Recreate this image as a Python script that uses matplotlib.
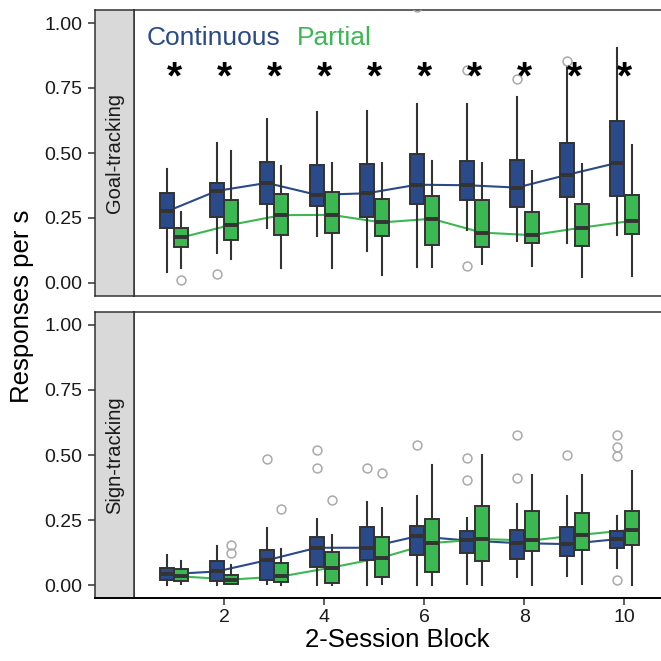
import numpy as np
import matplotlib.pyplot as plt

plt.rcParams['font.family'] = ['Liberation Sans', 'DejaVu Sans']

# 2-session blocks
blocks = np.arange(1, 11)
xticks = [2, 4, 6, 8, 10]
yticks = [0.0, 0.25, 0.5, 0.75, 1.0]
ytick_labels = ['0.00', '0.25', '0.50', '0.75', '1.00']
groups = ['Continuous', 'Partial']
panels = ['Goal-tracking', 'Sign-tracking']
sig_blocks = [1, 2, 3, 4, 5, 6, 7, 8, 9, 10]

# Goal-tracking, Continuous
gt_cont_whislo = [0.041, 0.117, 0.213, 0.181, 0.123, 0.060, 0.205, 0.161, 0.153, 0.183]
gt_cont_q1 = [0.210, 0.254, 0.304, 0.297, 0.254, 0.305, 0.320, 0.294, 0.330, 0.334]
gt_cont_med = [0.275, 0.354, 0.385, 0.339, 0.345, 0.378, 0.376, 0.367, 0.416, 0.462]
gt_cont_q3 = [0.345, 0.385, 0.464, 0.455, 0.459, 0.495, 0.470, 0.472, 0.538, 0.624]
gt_cont_whishi = [0.437, 0.537, 0.630, 0.657, 0.661, 0.688, 0.688, 0.716, 0.831, 0.904]
gt_cont_fliers = [[], [0.036], [], [], [], [1.06], [0.819, 0.067], [0.784], [0.853], []]

# Goal-tracking, Partial
gt_part_whislo = [0.058, 0.092, 0.059, 0.059, 0.031, 0.061, 0.073, 0.064, 0.023, 0.028]
gt_part_q1 = [0.138, 0.165, 0.183, 0.194, 0.181, 0.146, 0.140, 0.153, 0.143, 0.190]
gt_part_med = [0.175, 0.224, 0.261, 0.262, 0.233, 0.247, 0.194, 0.184, 0.213, 0.239]
gt_part_q3 = [0.213, 0.320, 0.343, 0.349, 0.323, 0.335, 0.320, 0.272, 0.305, 0.337]
gt_part_whishi = [0.274, 0.508, 0.451, 0.460, 0.460, 0.470, 0.463, 0.431, 0.456, 0.530]
gt_part_fliers = [[0.013], [], [], [], [], [], [], [], [], []]

# Sign-tracking, Continuous
st_cont_whislo = [0.0, 0.0, 0.004, 0.0, 0.0, 0.0, 0.006, 0.032, 0.037, 0.066]
st_cont_q1 = [0.022, 0.015, 0.019, 0.070, 0.097, 0.117, 0.125, 0.102, 0.111, 0.143]
st_cont_med = [0.042, 0.053, 0.096, 0.144, 0.144, 0.188, 0.172, 0.162, 0.158, 0.177]
st_cont_q3 = [0.066, 0.092, 0.134, 0.187, 0.223, 0.228, 0.210, 0.214, 0.224, 0.210]
st_cont_whishi = [0.117, 0.149, 0.218, 0.255, 0.320, 0.341, 0.259, 0.313, 0.341, 0.267]
st_cont_fliers = [[], [], [0.483], [0.518, 0.452], [0.452], [0.539], [0.488, 0.405],
                  [0.578, 0.410], [0.499], [0.578, 0.532, 0.496, 0.019]]

# Sign-tracking, Partial
st_part_whislo = [0.006, 0.003, 0.0, 0.0, 0.004, 0.0, 0.0, 0.0, 0.006, 0.0]
st_part_q1 = [0.017, 0.006, 0.013, 0.009, 0.032, 0.051, 0.092, 0.130, 0.134, 0.153]
st_part_med = [0.034, 0.022, 0.034, 0.068, 0.106, 0.162, 0.177, 0.172, 0.194, 0.213]
st_part_q3 = [0.062, 0.041, 0.084, 0.126, 0.186, 0.256, 0.305, 0.284, 0.276, 0.284]
st_part_whishi = [0.093, 0.076, 0.140, 0.194, 0.298, 0.460, 0.499, 0.423, 0.424, 0.438]
st_part_fliers = [[], [0.153, 0.125], [0.294], [0.327], [0.432], [], [], [], [], []]

BLUE = '#2A4A8A'
GREEN = '#3CB853'
EDGE = '#333333'
STRIP = '#D9D9D9'
FLIER = '#AAAAAA'
DODGE = 0.147
W = H = 661


def rect(l, t, r, b):
    # pixel box -> figure fraction
    return [l / W, 1 - b / H, (r - l) / W, (b - t) / H]


def draw_group(ax, pos, whislo, q1, med, q3, whishi, fliers, color):
    stats = [dict(whislo=a, q1=b, med=c, q3=d, whishi=e, fliers=f)
             for a, b, c, d, e, f in zip(whislo, q1, med, q3, whishi, fliers)]
    ax.plot(pos, med, color=color, lw=1.5, zorder=2)
    ax.bxp(stats, positions=pos, widths=0.28, patch_artist=True, showcaps=False,
           manage_ticks=False, zorder=3,
           boxprops=dict(facecolor=color, edgecolor=EDGE, linewidth=1.4),
           whiskerprops=dict(color=EDGE, linewidth=1.5),
           medianprops=dict(color=EDGE, linewidth=2.8, solid_capstyle='butt'),
           flierprops=dict(marker='o', markerfacecolor='none', markeredgecolor=FLIER,
                           markersize=6.4, markeredgewidth=1.1))


fig = plt.figure(figsize=(6.61, 6.61), dpi=100)

panel_px = [(10, 296), (311.7, 598.3)]
data = [
    (gt_cont_whislo, gt_cont_q1, gt_cont_med, gt_cont_q3, gt_cont_whishi, gt_cont_fliers,
     gt_part_whislo, gt_part_q1, gt_part_med, gt_part_q3, gt_part_whishi, gt_part_fliers),
    (st_cont_whislo, st_cont_q1, st_cont_med, st_cont_q3, st_cont_whishi, st_cont_fliers,
     st_part_whislo, st_part_q1, st_part_med, st_part_q3, st_part_whishi, st_part_fliers),
]

axes = []
for i, ((top, bot), d) in enumerate(zip(panel_px, data)):
    ax = fig.add_axes(rect(134, top, 661, bot))
    strip = fig.add_axes(rect(95, top, 134, bot))

    draw_group(ax, blocks - DODGE, *d[:6], BLUE)
    draw_group(ax, blocks + DODGE, *d[6:], GREEN)

    ax.set_xlim(0.20, 10.73)
    ax.set_ylim(-0.05, 1.05)
    ax.set_yticks([])
    for s in ['top', 'left', 'bottom']:
        ax.spines[s].set_color(EDGE)
        ax.spines[s].set_linewidth(1.1)
    ax.spines['right'].set_visible(False)

    # strip on the left carries the y axis
    strip.set_facecolor(STRIP)
    strip.set_xlim(0, 1)
    strip.set_ylim(-0.05, 1.05)
    strip.set_xticks([])
    strip.set_yticks(yticks)
    strip.set_yticklabels(ytick_labels, fontsize=14, color='#1A1A1A')
    strip.tick_params(axis='y', length=5, width=1.1, color=EDGE, pad=4.3)
    for s in strip.spines.values():
        s.set_color(EDGE)
        s.set_linewidth(1.1)
    strip.text(0.5, 0.5, panels[i], rotation=90, ha='center', va='center',
               fontsize=14.5, color='#1A1A1A', transform=strip.transAxes)
    axes.append((ax, strip))

ax_top, strip_top = axes[0]
ax_bot, strip_bot = axes[1]

ax_top.set_xticks([])
ax_bot.set_xticks(xticks)
ax_bot.set_xticklabels([str(t) for t in xticks], fontsize=14, color='#1A1A1A')
ax_bot.tick_params(axis='x', length=5, width=1.1, color=EDGE, pad=3)
ax_bot.spines['bottom'].set_color('black')
ax_bot.spines['bottom'].set_linewidth(1.4)
strip_bot.spines['bottom'].set_color('black')
strip_bot.spines['bottom'].set_linewidth(1.4)

# significance markers
for b in sig_blocks:
    ax_top.text(b, 0.786, '*', ha='center', va='center', fontsize=28,
                fontweight='bold', color='black', zorder=4)

# group labels
ax_top.text(0.024, 0.878, groups[0], color=BLUE, fontsize=19,
            transform=ax_top.transAxes, va='baseline', ha='left')
ax_top.text(0.309, 0.878, groups[1], color=GREEN, fontsize=19,
            transform=ax_top.transAxes, va='baseline', ha='left')

fig.text(22 / W, 1 - 306 / H, 'Responses per s', rotation=90, ha='center',
         va='center', fontsize=18.5)
fig.text((134 + 661) / 2 / W, 1 - 640 / H, '2-Session Block', ha='center',
         va='center', fontsize=18.5)

fig.savefig('out.png', dpi=100)
